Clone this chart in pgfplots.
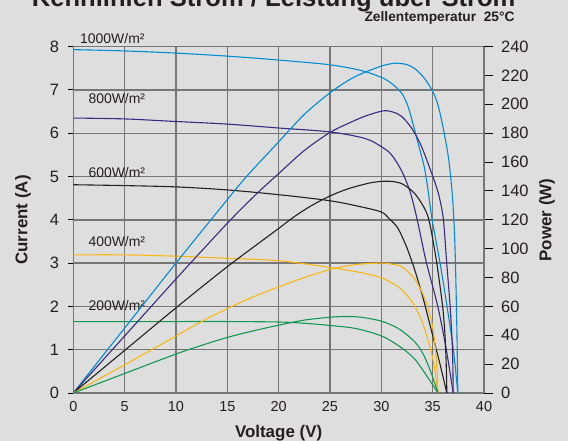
\documentclass[border=0pt]{standalone}
\usepackage{fontspec}
\setmainfont{Liberation Sans}
\usepackage{pgfplots}
\pgfplotsset{compat=1.18}
\definecolor{bg}{RGB}{222,222,222}
\definecolor{gridc}{RGB}{118,118,118}
\definecolor{txt}{RGB}{35,31,32}
\definecolor{c1000}{RGB}{0,140,210}
\definecolor{c800}{RGB}{58,42,130}
\definecolor{c600}{RGB}{35,31,32}
\definecolor{c400}{RGB}{248,184,20}
\definecolor{c200}{RGB}{18,152,82}
\newcommand\fs[1]{\fontsize{#1}{#1}\selectfont}

\begin{document}
\begin{tikzpicture}
\fill[bg] (0bp,0bp) rectangle (568bp,441bp);

% current axis (left)
\begin{axis}[
  at={(73.3bp,48bp)}, anchor=south west,
  scale only axis, width=410.7bp, height=346.4bp,
  xmin=0, xmax=40, ymin=0, ymax=8,
  xtick={0,5,...,40}, ytick={0,1,...,8},
  grid=major, major grid style={gridc, line width=1.4bp},
  axis line style={gridc, line width=1.4bp},
  ytick pos=left, tick align=outside, major tick length=5bp,
  ytick style={black, line width=1bp}, xtick style={draw=none},
  ticklabel style={text=txt},
  xticklabel style={font=\fs{14.5}, inner sep=0pt, yshift=-3bp},
  yticklabel style={font=\fs{16.5}, inner sep=0pt, xshift=-9bp},
  /pgf/number format/assume math mode=true,
  clip=false,
  every axis plot/.append style={line width=1.1bp, smooth, tension=0.5}
]
\addplot[c1000] coordinates {
 (0,7.93) (5,7.90) (10,7.85) (15,7.78) (20,7.69) (25,7.58) (28,7.45) (30,7.29)
 (31,7.15) (32,6.92) (32.6,6.62) (33.1,6.2) (33.6,5.75) (34.2,5.2) (34.6,4.6)
 (34.95,4.0) (35.72,3.0) (36.4,2.0) (37.02,1.0) (37.45,0)};
\addplot[c800] coordinates {
 (0,6.35) (5,6.33) (10,6.27) (15,6.21) (20,6.12) (25,6.03) (28.4,5.88) (30,5.69)
 (31,5.5) (32,5.12) (32.8,4.65) (33.4,4.1) (33.9,3.55) (34.4,3.0) (35.5,2.0)
 (36.33,1.0) (37.0,0)};
\addplot[c600] coordinates {
 (0,4.81) (5,4.79) (10,4.76) (15,4.69) (20,4.58) (25,4.44) (28,4.3) (30,4.18)
 (30.8,4.02) (31.6,3.81) (32.45,3.38) (33.27,2.83) (34.08,2.18) (34.87,1.45)
 (35.7,0.68) (36.38,0)};
\addplot[c400] coordinates {
 (0,3.19) (5,3.19) (10,3.16) (15,3.11) (20,3.055) (25,2.9) (28,2.78) (30,2.66)
 (31.7,2.44) (33.07,2.08) (34.05,1.6) (34.8,1.0) (35.15,0.62) (35.52,0)};
\addplot[c200] coordinates {
 (0,1.65) (5,1.65) (10,1.65) (15,1.65) (20,1.64) (22.5,1.61) (25,1.56) (27.5,1.49)
 (30,1.32) (31.75,1.08) (33.23,0.79) (34.55,0.35) (35.52,0)};

\begin{scope}[font=\fs{14}, text=txt]
\node[anchor=base west] at (axis cs:0.33,8.07) {1000W/m²};
\node[anchor=base west] at (axis cs:1.14,6.68) {800W/m²};
\node[anchor=base west] at (axis cs:1.14,4.97) {600W/m²};
\node[anchor=base west] at (axis cs:1.14,3.38) {400W/m²};
\node[anchor=base west] at (axis cs:1.14,1.90) {200W/m²};
\end{scope}
\end{axis}

% power axis (right)
\begin{axis}[
  at={(73.3bp,48bp)}, anchor=south west,
  scale only axis, width=410.7bp, height=346.4bp,
  xmin=0, xmax=40, ymin=0, ymax=240,
  axis x line=none, axis y line*=right,
  ytick={0,20,...,240},
  axis line style={gridc, line width=1.4bp},
  tick align=outside, major tick length=9bp,
  ytick style={black, line width=1bp},
  yticklabel style={font=\fs{16.5}, text=txt, inner sep=0pt, xshift=8bp},
  /pgf/number format/assume math mode=true,
  every axis plot/.append style={line width=1.1bp, smooth, tension=0.5}
]
\addplot[c1000] coordinates {
 (0,0) (5,45) (10,90) (15,134) (17,151) (20,174) (22.5,193) (25,208)
 (27,217.5) (28.5,222.5) (30,226.5) (31,228.2) (31.6,228.5) (32.5,227.5)
 (33.3,224.5) (34.2,218) (35,209) (35.5,200) (35.9,188) (36.2,177) (36.5,165)
 (36.75,150) (36.95,134) (37.1,115) (37.2,95) (37.3,65) (37.38,35) (37.45,0)};
\addplot[c800] coordinates {
 (0,0) (5,39.5) (10,79) (14,110) (16,125) (18,139) (20,152) (22.5,168)
 (25,180.5) (27,187.5) (28.5,192) (30.2,195.5) (31.2,194.5) (32,191.5) (33,183)
 (33.9,171) (34.9,152.3) (35.4,142) (35.7,134) (36.05,120) (36.37,90)
 (36.7,60) (36.93,30) (37.0,0)};
\addplot[c600] coordinates {
 (0,0) (5,29.5) (10,59) (15,87.5) (20,114) (21,119.5) (22,124.5) (23,129)
 (24,133) (25,136.5) (26,139.5) (27,142) (28,144) (29,145.7) (30,146.6)
 (31,146.6) (32,145) (33,140) (33.6,135) (34.2,128) (34.6,121) (35.0,107)
 (35.4,90) (35.7,75) (36.0,58) (36.2,40) (36.32,20) (36.38,0)};
\addplot[c400] coordinates {
 (0,0) (5,19.5) (10,39.5) (12.5,49.5) (15,58.5) (17.5,66.5) (20,73.5)
 (22.5,80) (25,85.5) (27.5,89) (30,90) (31,89.3) (32,87.5) (33.2,79.5)
 (34.2,66) (34.84,51) (35.1,41) (35.3,28) (35.45,12) (35.52,0)};
\addplot[c200] coordinates {
 (0,0) (5,13.5) (10,27) (12.5,33) (15,38.5) (17.5,43) (20,47) (22.5,50.5)
 (25,52.5) (26.5,53) (28,52.5) (30,49.8) (31.7,44.5) (33.25,35.5) (34.0,28)
 (34.55,19.5) (35.0,11) (35.52,0)};
\end{axis}

% texts
\node[anchor=base east, text=txt, font=\bfseries\fs{25.7}] at (519bp,434.5bp)
  {Kennlinien Strom / Leistung über Strom};
\node[anchor=base east, text=txt, font=\bfseries\fs{13.8}] at (518bp,419bp)
  {Zellentemperatur\ \ 25°C};
\node[rotate=90, text=txt, font=\bfseries\fs{17}] at (23bp,221bp) {Current (A)};
\node[rotate=90, text=txt, font=\bfseries\fs{17}] at (547bp,221bp) {Power (W)};
\node[anchor=base, text=txt, font=\bfseries\fs{17}] at (278.6bp,4bp) {Voltage (V)};

\pgfresetboundingbox
\path[use as bounding box] (0bp,0bp) rectangle (568bp,441bp);
\end{tikzpicture}
\end{document}
